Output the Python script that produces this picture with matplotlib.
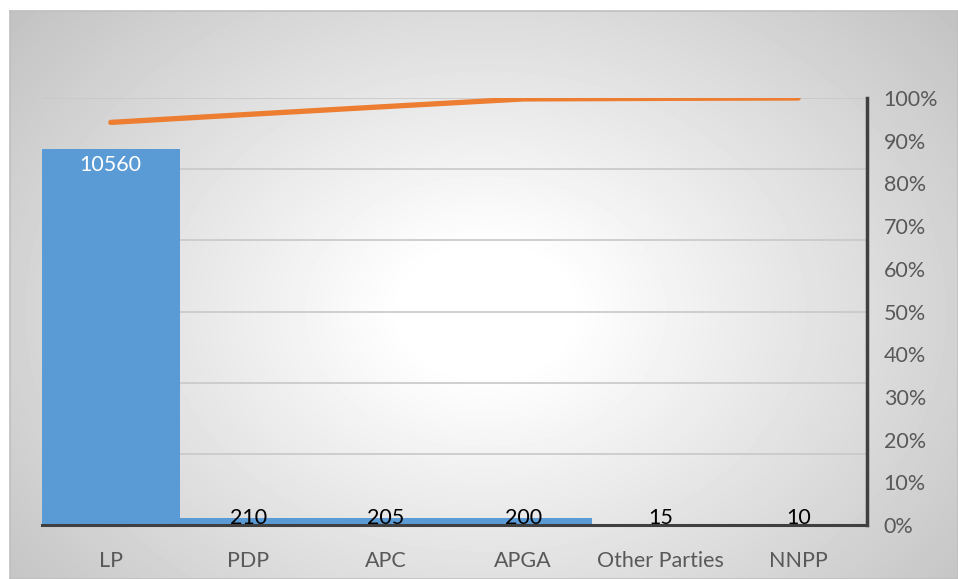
import numpy as np
import matplotlib.pyplot as plt
from matplotlib.ticker import PercentFormatter

# chart data
parties = ['LP', 'PDP', 'APC', 'APGA', 'Other Parties', 'NNPP']
votes = [10560, 210, 205, 200, 15, 10]

cum_share = np.cumsum(votes) / np.sum(votes)

plt.rcParams['font.family'] = ['Lato', 'DejaVu Sans']

W, H = 958, 579
fig = plt.figure(figsize=(W / 100, H / 100), dpi=100)
fig.patch.set_facecolor('white')

# radial grey gradient behind the chart (excel style)
bg = fig.add_axes([10 / W, 0, 1 - 10 / W, 1 - 11 / H])
yy, xx = np.mgrid[0:568, 0:948]
r = np.hypot((xx - 475) / 560, (yy - 300) / 420)
shade = 1 - 0.25 * np.clip(r - 0.15, 0, None)
bg.imshow(shade, cmap='gray', vmin=0, vmax=1, aspect='auto',
          interpolation='bilinear')
bg.set_xticks([])
bg.set_yticks([])
for s in bg.spines.values():
    s.set_color('#bfbfbf')
    s.set_linewidth(1.2)

ax = fig.add_axes([42 / W, 1 - 525 / H, (867 - 42) / W, (525 - 98) / H])
ax.set_facecolor('none')

x = np.arange(len(parties))
ax.bar(x, votes, width=1.0, color='#5B9BD5', zorder=2)
ax.set_xlim(-0.5, len(parties) - 0.5)
ax.set_ylim(0, 12000)
ax.set_yticks(range(0, 12001, 2000))
ax.yaxis.grid(True, color='#c8c8c8', linewidth=1.2)
ax.set_axisbelow(True)
ax.set_xticks(x)
ax.set_xticklabels(parties, fontsize=15.5, color='#595959')
for side in ['top', 'left', 'right']:
    ax.spines[side].set_visible(False)
ax.spines['bottom'].set_color('#404040')
ax.spines['bottom'].set_linewidth(2.2)

# data labels
for i, v in enumerate(votes):
    if v > 1000:
        ax.annotate(str(v), (i, v), xytext=(0, -4), textcoords='offset points',
                    ha='center', va='top', color='white', fontsize=15.5)
    else:
        ax.annotate(str(v), (i, 0), xytext=(0, 1), textcoords='offset points',
                    ha='center', va='baseline', color='black', fontsize=15.5)

# cumulative percentage line
ax2 = ax.twinx()
ax2.plot(x, cum_share, color='#ED7D31', linewidth=3.8, solid_capstyle='round')
ax2.set_ylim(0, 1)
ax2.set_yticks(np.arange(0, 1.01, 0.1))
ax2.yaxis.set_major_formatter(PercentFormatter(1, decimals=0))
ax2.tick_params(axis='y', length=0, pad=12, labelsize=15.5, labelcolor='#595959')
for side in ['top', 'left', 'bottom']:
    ax2.spines[side].set_visible(False)
ax2.spines['right'].set_color('#404040')
ax2.spines['right'].set_linewidth(2.5)

# twinx turns the left ticks back on, so switch them off here
ax.tick_params(axis='y', left=False, labelleft=False)
ax.tick_params(axis='x', bottom=False, pad=15)

fig.savefig('out.png', dpi=100)
